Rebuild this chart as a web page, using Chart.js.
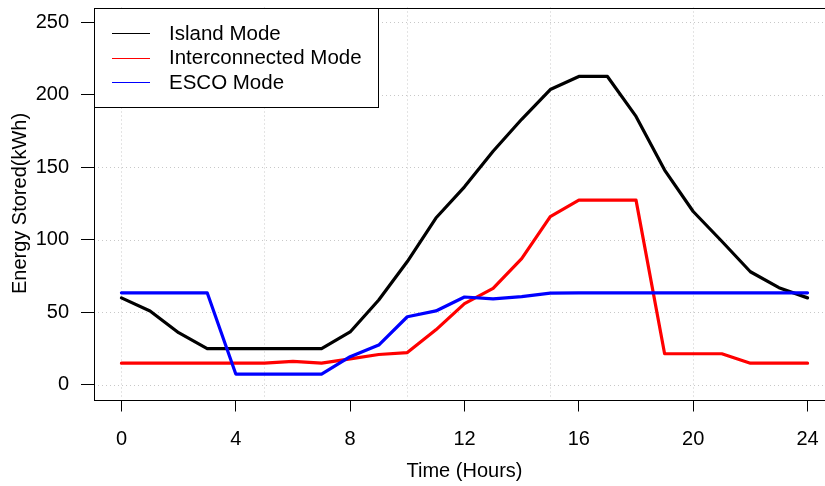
<!DOCTYPE html>
<html>
<head>
<meta charset="utf-8">
<script src="https://cdn.jsdelivr.net/npm/chart.js@4"></script>
<style>
  body { margin: 0; background: #fff; }
  #wrap { width: 825px; height: 486px; overflow: hidden; }
</style>
</head>
<body>
<div id="wrap"><canvas id="energyChart" width="840" height="486"></canvas></div>
<script>
// hours of the day
const hours = [0, 1, 2, 3, 4, 5, 6, 7, 8, 9, 10, 11, 12, 13, 14, 15, 16, 17, 18, 19, 20, 21, 22, 23, 24];

// energy stored (kWh) per mode
const islandMode = [60, 51, 36, 25, 25, 25, 25, 25, 36.5, 58.5, 85, 115, 136.5, 161, 183, 203.5, 212.5, 212.5, 185, 148, 119.5, 99, 78, 67, 60];
const interconnectedMode = [15, 15, 15, 15, 15, 15, 16.3, 15, 18, 21, 22.3, 38, 56, 66.6, 87, 116, 127.3, 127.3, 127.3, 21.5, 21.5, 21.5, 15, 15, 15];
const escoMode = [63.5, 63.5, 63.5, 63.5, 7.5, 7.5, 7.5, 7.5, 19.5, 27.5, 47, 51, 60.6, 59.3, 60.8, 63.3, 63.5, 63.5, 63.5, 63.5, 63.5, 63.5, 63.5, 63.5, 63.5];

const xTicks = [0, 4, 8, 12, 16, 20, 24];
const yTicks = [0, 50, 100, 150, 200, 250];
const xGrid = [0, 5, 10, 15, 20];
const yGrid = [0, 50, 100, 150, 200, 250];

const FONT = '"Liberation Sans", Arial, Helvetica, sans-serif';

function toPoints(values) {
    return hours.map((h, i) => ({ x: h, y: values[i] }));
}

// grelha pontilhada, caixa, legenda e títulos dos eixos (estilo R)
const rStylePlugin = {
    id: 'rStyle',
    beforeDatasetsDraw(chart) {
        const ctx = chart.ctx;
        const area = chart.chartArea;
        const xs = chart.scales.x;
        const ys = chart.scales.y;
        ctx.save();
        ctx.strokeStyle = '#c8c8c8';
        ctx.lineWidth = 1;
        ctx.setLineDash([1, 3]);
        xGrid.forEach(v => {
            const px = Math.round(xs.getPixelForValue(v)) + 0.5;
            ctx.beginPath();
            ctx.moveTo(px, area.top);
            ctx.lineTo(px, area.bottom);
            ctx.stroke();
        });
        yGrid.forEach(v => {
            const py = Math.round(ys.getPixelForValue(v)) + 0.5;
            ctx.beginPath();
            ctx.moveTo(area.left, py);
            ctx.lineTo(area.right, py);
            ctx.stroke();
        });
        ctx.restore();
    },
    afterDraw(chart) {
        const ctx = chart.ctx;
        const area = chart.chartArea;
        ctx.save();
        // caixa
        ctx.strokeStyle = '#000';
        ctx.lineWidth = 1;
        ctx.strokeRect(Math.round(area.left) + 0.5, Math.round(area.top) + 0.5,
            Math.round(area.right - area.left), Math.round(area.bottom - area.top));

        // legenda
        const lx = Math.round(area.left) + 0.5;
        const ly = Math.round(area.top) + 0.5;
        ctx.fillStyle = '#fff';
        ctx.fillRect(lx, ly, 284, 99);
        ctx.strokeRect(lx, ly, 284, 99);
        ctx.font = '20.5px ' + FONT;
        ctx.textBaseline = 'middle';
        ctx.textAlign = 'left';
        const rowY = [33, 57.5, 82];
        chart.data.datasets.forEach((ds, i) => {
            const y = Math.round(rowY[i]) + 0.5;
            ctx.strokeStyle = ds.borderColor;
            ctx.beginPath();
            ctx.moveTo(112, y);
            ctx.lineTo(150, y);
            ctx.stroke();
            ctx.fillStyle = '#000';
            ctx.fillText(ds.label, 169, rowY[i] + 1);
        });

        // títulos dos eixos
        ctx.font = '20px ' + FONT;
        ctx.fillStyle = '#000';
        ctx.textAlign = 'center';
        ctx.fillText('Time (Hours)', (area.left + area.right) / 2, 471);
        ctx.translate(20, (area.top + area.bottom) / 2);
        ctx.rotate(-Math.PI / 2);
        ctx.fillText('Energy Stored(kWh)', 0, 0);
        ctx.restore();
    }
};

const lineStyle = {
    borderWidth: 3.2,
    pointRadius: 0,
    tension: 0,
    borderCapStyle: 'round',
    borderJoinStyle: 'round',
    fill: false
};

new Chart(document.getElementById('energyChart'), {
    type: 'line',
    data: {
        datasets: [
            Object.assign({ label: 'Island Mode', data: toPoints(islandMode), borderColor: '#000000', order: 3 }, lineStyle),
            Object.assign({ label: 'Interconnected Mode', data: toPoints(interconnectedMode), borderColor: '#ff0000', order: 2 }, lineStyle),
            Object.assign({ label: 'ESCO Mode', data: toPoints(escoMode), borderColor: '#0000ff', order: 1 }, lineStyle)
        ]
    },
    options: {
        responsive: false,
        animation: false,
        layout: { padding: { top: 7.5, right: 5, left: 0, bottom: 0 } },
        plugins: {
            legend: { display: false },
            tooltip: { enabled: false }
        },
        scales: {
            x: {
                type: 'linear',
                min: -0.96,
                max: 24.96,
                afterBuildTicks: scale => { scale.ticks = xTicks.map(v => ({ value: v })); },
                afterFit: scale => {
                    scale.height = 86.5;
                    scale.paddingLeft = 0;
                    scale.paddingRight = 0;
                },
                grid: { drawOnChartArea: false, drawTicks: true, tickLength: 12, color: '#000', lineWidth: 1 },
                border: { display: false },
                ticks: { color: '#000', font: { size: 20, family: FONT }, padding: 16, maxRotation: 0 }
            },
            y: {
                type: 'linear',
                min: -10,
                max: 260,
                afterBuildTicks: scale => { scale.ticks = yTicks.map(v => ({ value: v })); },
                afterFit: scale => {
                    scale.width = 94;
                    scale.paddingTop = 0;
                    scale.paddingBottom = 0;
                },
                grid: { drawOnChartArea: false, drawTicks: true, tickLength: 13, color: '#000', lineWidth: 1 },
                border: { display: false },
                ticks: { color: '#000', font: { size: 20, family: FONT }, padding: 12 }
            }
        }
    },
    plugins: [rStylePlugin]
});
</script>
</body>
</html>
